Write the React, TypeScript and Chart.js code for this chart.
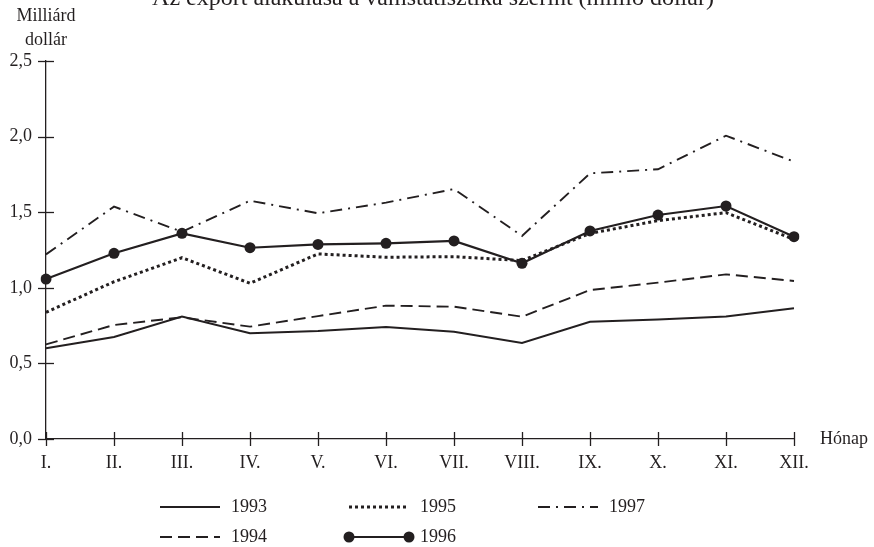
import React, { useEffect, useRef } from 'react';
import { Chart, registerables } from 'chart.js';

Chart.register(...registerables);

const months = ['I.', 'II.', 'III.', 'IV.', 'V.', 'VI.', 'VII.', 'VIII.', 'IX.', 'X.', 'XI.', 'XII.'];
const yTickLabels = ['0,0', '0,5', '1,0', '1,5', '2,0', '2,5'];
const seriesNames = ['1993', '1994', '1995', '1996', '1997'];

const v1993 = [0.6, 0.675, 0.81, 0.7, 0.715, 0.74, 0.71, 0.635, 0.775, 0.79, 0.81, 0.865];
const v1994 = [0.626, 0.754, 0.805, 0.743, 0.813, 0.882, 0.875, 0.809, 0.985, 1.034, 1.089, 1.045];
const v1995 = [0.838, 1.04, 1.199, 1.03, 1.224, 1.202, 1.206, 1.18, 1.36, 1.444, 1.497, 1.32];
const v1996 = [1.058, 1.228, 1.36, 1.265, 1.287, 1.294, 1.31, 1.162, 1.376, 1.481, 1.541, 1.338];
const v1997 = [1.221, 1.537, 1.37, 1.576, 1.493, 1.563, 1.653, 1.343, 1.757, 1.784, 2.006, 1.834];

const titleText = 'Az export alakulása a vámstatisztika szerint (millió dollár)';
const yAxisTitle = ['Milliárd', 'dollár'];
const xAxisTitle = 'Hónap';

const INK = '#231f20';
const FONT = '"Liberation Serif", "Times New Roman", serif';

const decorPlugin = {
  id: 'decor',
  afterDraw(chart: any) {
    const ctx = chart.ctx as CanvasRenderingContext2D;
    const xs = chart.scales.x;
    const ys = chart.scales.y;
    const area = chart.chartArea;
    const ax = area.left;
    const ay = area.bottom;
    ctx.save();
    ctx.strokeStyle = INK;
    ctx.lineWidth = 1.3;
    ctx.setLineDash([]);
    ys.ticks.forEach((_t: any, i: number) => {
      const py = Math.round(ys.getPixelForTick(i)) + 0.5;
      ctx.beginPath();
      ctx.moveTo(ax - 8, py);
      ctx.lineTo(ax + 8, py);
      ctx.stroke();
    });
    xs.ticks.forEach((_t: any, i: number) => {
      const px = Math.round(xs.getPixelForTick(i)) + 0.5;
      ctx.beginPath();
      ctx.moveTo(px, ay - 7);
      ctx.lineTo(px, ay + 7);
      ctx.stroke();
    });

    ctx.fillStyle = INK;
    ctx.font = `18px ${FONT}`;
    ctx.textAlign = 'left';
    ctx.textBaseline = 'middle';
    ctx.fillText(xAxisTitle, area.right + 26, ay);

    ctx.textAlign = 'center';
    ctx.fillText(yAxisTitle[0], ax, 16);
    ctx.fillText(yAxisTitle[1], ax, 40);

    ctx.textBaseline = 'alphabetic';
    ctx.font = `24px ${FONT}`;
    ctx.fillText(titleText, 433, 5, 580);

    // legend
    const slots = [
      [160, 507],
      [160, 537],
      [349, 507],
      [349, 537],
      [538, 507],
    ];
    chart.data.datasets.forEach((ds: any, i: number) => {
      const [lx, ly] = slots[i];
      ctx.save();
      ctx.strokeStyle = ds.borderColor;
      ctx.lineWidth = ds.borderWidth;
      ctx.setLineDash(ds.borderDash || []);
      ctx.beginPath();
      ctx.moveTo(lx, ly);
      ctx.lineTo(lx + 60, ly);
      ctx.stroke();
      ctx.setLineDash([]);
      if (ds.pointRadius > 0) {
        ctx.fillStyle = ds.pointBackgroundColor;
        [lx, lx + 60].forEach((cx) => {
          ctx.beginPath();
          ctx.arc(cx, ly, ds.pointRadius, 0, Math.PI * 2);
          ctx.fill();
        });
      }
      ctx.fillStyle = INK;
      ctx.font = `18px ${FONT}`;
      ctx.textAlign = 'left';
      ctx.textBaseline = 'middle';
      ctx.fillText(ds.label, lx + 71, ly);
      ctx.restore();
    });
    ctx.restore();
  },
};

export default function App() {
  const ref = useRef<HTMLCanvasElement | null>(null);
  useEffect(() => {
    if (!ref.current) return;
    const values = [v1993, v1994, v1995, v1996, v1997];
    const styles = [
      { borderWidth: 2, borderDash: [] as number[], pointRadius: 0 },
      { borderWidth: 1.9, borderDash: [12, 6], pointRadius: 0 },
      { borderWidth: 3, borderDash: [3, 3], pointRadius: 0 },
      { borderWidth: 2.1, borderDash: [] as number[], pointRadius: 5.5 },
      { borderWidth: 1.9, borderDash: [12, 6, 2, 6], pointRadius: 0 },
    ];
    const chart = new Chart(ref.current, {
      type: 'line',
      data: {
        labels: months,
        datasets: seriesNames.map((name, i) => ({
          label: name,
          data: values[i],
          borderColor: INK,
          backgroundColor: INK,
          pointBackgroundColor: INK,
          pointBorderColor: INK,
          pointBorderWidth: 0,
          borderWidth: styles[i].borderWidth,
          borderDash: styles[i].borderDash,
          pointRadius: styles[i].pointRadius,
          tension: 0,
          fill: false,
          borderCapStyle: 'butt',
        })),
      },
      options: {
        animation: false,
        responsive: false,
        events: [],
        layout: { padding: { top: 61, right: 80, left: 0, bottom: 0 } },
        plugins: {
          legend: { display: false },
          title: { display: false },
          tooltip: { enabled: false },
        },
        scales: {
          x: {
            type: 'category',
            offset: false,
            grid: { display: false, drawTicks: false },
            border: { display: true, color: INK, width: 1.3 },
            ticks: {
              color: INK,
              font: { family: FONT, size: 18 },
              padding: 13,
              maxRotation: 0,
              autoSkip: false,
            },
            afterFit: (s: any) => {
              s.height = 108;
            },
          },
          y: {
            min: 0,
            max: 2.5,
            grid: { display: false, drawTicks: false },
            border: { display: true, color: INK, width: 1.3 },
            ticks: {
              stepSize: 0.5,
              color: INK,
              font: { family: FONT, size: 18 },
              padding: 14,
              callback: (_v: any, idx: number) => yTickLabels[idx],
            },
            afterFit: (s: any) => {
              s.width = 46;
            },
          },
        },
      },
      plugins: [decorPlugin],
    });
    return () => chart.destroy();
  }, []);

  return (
    <div style={{ position: 'absolute', left: 0, top: 0, width: 874, height: 547, background: '#fff' }}>
      <canvas ref={ref} width={874} height={547} />
    </div>
  );
}
